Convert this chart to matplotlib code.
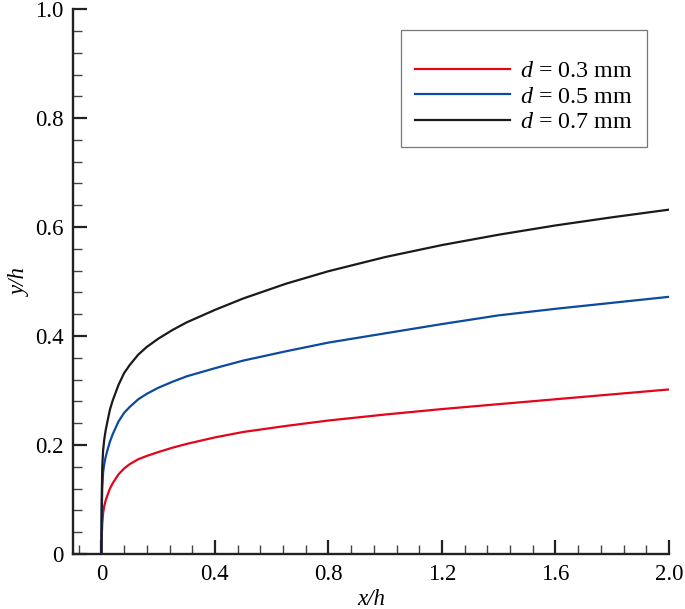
import numpy as np
import matplotlib
matplotlib.use("Agg")
import matplotlib.pyplot as plt
from matplotlib.ticker import MultipleLocator, FixedLocator

plt.rcParams["font.family"] = "Liberation Serif"
plt.rcParams["mathtext.fontset"] = "custom"
plt.rcParams["mathtext.rm"] = "Liberation Serif"
plt.rcParams["mathtext.it"] = "Liberation Serif:italic"

# values
x = [0, 0.001, 0.003, 0.006, 0.01, 0.015, 0.02, 0.03, 0.04, 0.06, 0.08, 0.1,
     0.13, 0.16, 0.2, 0.25, 0.3, 0.4, 0.5, 0.65, 0.8, 1.0, 1.2, 1.4, 1.6,
     1.8, 2.0]
y_d03 = [0, 0.03, 0.055, 0.075, 0.088, 0.098, 0.106, 0.12, 0.13, 0.146,
         0.157, 0.165, 0.174, 0.18, 0.187, 0.195, 0.202, 0.214, 0.224, 0.235,
         0.245, 0.256, 0.266, 0.275, 0.284, 0.293, 0.302]
y_d05 = [0, 0.07, 0.12, 0.15, 0.165, 0.178, 0.188, 0.206, 0.22, 0.243,
         0.259, 0.27, 0.284, 0.294, 0.305, 0.316, 0.326, 0.341, 0.355, 0.372,
         0.388, 0.405, 0.422, 0.438, 0.450, 0.461, 0.472]
y_d07 = [0, 0.10, 0.16, 0.19, 0.21, 0.227, 0.24, 0.265, 0.282, 0.31, 0.332,
         0.347, 0.366, 0.38, 0.395, 0.411, 0.425, 0.448, 0.469, 0.496, 0.519,
         0.545, 0.567, 0.586, 0.603, 0.618, 0.632]

labels = ["$d$ = 0.3 mm", "$d$ = 0.5 mm", "$d$ = 0.7 mm"]
colors = ["#e3051b", "#0b4a9e", "#1a1a1a"]

fig = plt.figure(figsize=(6.85, 6.09), dpi=100)
ax = fig.add_axes([0.1066, 0.0903, 0.87, 0.8947])

for ys, lab, c in zip([y_d03, y_d05, y_d07], labels, colors):
    ax.plot(x, ys, color=c, lw=1.6, label=lab)

ax.set_xlim(-0.1, 2.0)
ax.set_ylim(0, 1.0)

ax.xaxis.set_major_locator(FixedLocator([0, 0.4, 0.8, 1.2, 1.6, 2.0]))
ax.set_xticklabels(["0", "0.4", "0.8", "1.2", "1.6", "2.0"])
ax.xaxis.set_minor_locator(FixedLocator(np.arange(-0.08, 2.0, 0.08)))
ax.yaxis.set_major_locator(FixedLocator([0, 0.2, 0.4, 0.6, 0.8, 1.0]))
ax.set_yticklabels(["0", "0.2", "0.4", "0.6", "0.8", "1.0"])
ax.yaxis.set_minor_locator(MultipleLocator(0.04))

for s in ["top", "right"]:
    ax.spines[s].set_visible(False)
for s in ["left", "bottom"]:
    ax.spines[s].set_linewidth(1.7)
    ax.spines[s].set_color("#222222")

ax.tick_params(which="major", direction="in", length=10, width=1.6,
               labelsize=16.5, color="#222222", pad=7)
ax.tick_params(which="minor", direction="in", length=6.5, width=1.0,
               color="#444444")
ax.tick_params(axis="x", which="major", pad=7)

ax.set_xlabel("x/h", fontstyle="italic", fontsize=16.5, labelpad=3)
ax.set_ylabel("y/h", fontstyle="italic", fontsize=16.5, labelpad=3)

# empty small title gives the extra space above the entries
leg = ax.legend(loc="upper right", bbox_to_anchor=(0.963, 0.961), fontsize=17.3,
                title=" ", title_fontsize=8.5,
                handlelength=3.95, handletextpad=0.42, labelspacing=0.15,
                borderpad=0.6, borderaxespad=0, fancybox=False, framealpha=1,
                edgecolor="#777777")
leg.get_frame().set_linewidth(0.9)

fig.savefig("out.png", dpi=100)
